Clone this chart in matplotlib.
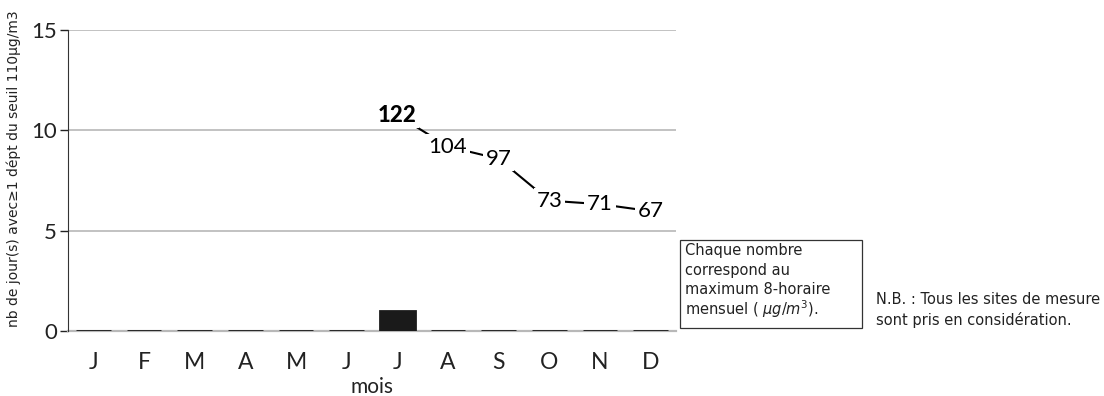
import matplotlib
matplotlib.use("Agg")
import matplotlib.pyplot as plt
from matplotlib.patches import Rectangle

plt.rcParams['font.family'] = ['Lato', 'DejaVu Sans']
plt.rcParams['mathtext.fontset'] = 'custom'
plt.rcParams['mathtext.it'] = 'DejaVu Sans:italic'
plt.rcParams['mathtext.rm'] = 'DejaVu Sans'

months = ['J', 'F', 'M', 'A', 'M', 'J', 'J', 'A', 'S', 'O', 'N', 'D']
days_over = [0, 0, 0, 0, 0, 0, 1, 0, 0, 0, 0, 0]
max_months = [6, 7, 8, 9, 10, 11]
max_values = [122, 104, 97, 73, 71, 67]

W, H = 1104, 396
TXT = '#222222'
GRID = '#b8b8b8'
WIDE = ['DejaVu Sans']

fig = plt.figure(figsize=(W / 100, H / 100), dpi=100)
ax = fig.add_axes([68 / W, 65 / H, 608 / W, 301 / H])

x = list(range(len(months)))
ax.bar(x, days_over, width=0.69, color='#1a1a1a', edgecolor='#1a1a1a',
       linewidth=2.0, zorder=3)
ax.set_xlim(-0.5, 11.5)
ax.set_ylim(0, 15)
ax.set_yticks([0, 5, 10, 15])
ax.set_xticks(x)
ax.set_xticklabels(months)
ax.tick_params(axis='x', length=0, pad=15, labelsize=16.5, colors=TXT)
ax.tick_params(axis='y', length=6, width=1, pad=2, labelsize=16, colors=TXT)
ax.grid(axis='y', color=GRID, linewidth=1.2)
ax.axhline(0, color=GRID, linewidth=1.6, clip_on=False, zorder=1)
ax.set_axisbelow(True)
for s in ('top', 'right', 'bottom'):
    ax.spines[s].set_visible(False)
ax.spines['left'].set_color('#333333')
ax.set_xlabel('mois', fontsize=15, color=TXT, labelpad=3)
ax.set_ylabel('nb de jour(s) avec≥1 dépt du seuil 110µg/m3', fontsize=10,
              color=TXT, family=WIDE)
ax.yaxis.set_label_coords(-0.078, 0.54)

# monthly 8-hour maximum on its own scale
ax2 = ax.twinx()
ax2.set_ylim(-1.7, 170.8)
ax2.set_axis_off()
ax2.plot(max_months, max_values, color='black', linewidth=1.5, zorder=2)
for m, v in zip(max_months, max_values):
    bold = v == max(max_values)
    ax2.text(m, v, str(v), ha='center', va='center',
             fontsize=16, fontweight='black' if bold else 'normal',
             color='black', zorder=3,
             bbox=dict(boxstyle='square,pad=0.12', facecolor='white',
                       edgecolor='none'))

# note box
fig.patches.append(Rectangle((680 / W, (H - 328) / H), 182 / W, 88 / H,
                             transform=fig.transFigure, fill=False,
                             edgecolor='#333333', linewidth=0.9))
box_lines = ['Chaque nombre', 'correspond au', 'maximum 8-horaire',
             r'mensuel ( $\mu g/m^3$).']
for i, line in enumerate(box_lines):
    fig.text(685 / W, (H - 251 - i * 19.5) / H, line, fontsize=10.5,
             color=TXT, va='center', ha='left', family=WIDE)
fig.text(876 / W, (H - 300) / H, 'N.B. : Tous les sites de mesure',
         fontsize=10.5, color=TXT, va='center', ha='left', family=WIDE)
fig.text(876 / W, (H - 320) / H, 'sont pris en considération.',
         fontsize=10.5, color=TXT, va='center', ha='left', family=WIDE)

fig.savefig('out.png', dpi=100)
